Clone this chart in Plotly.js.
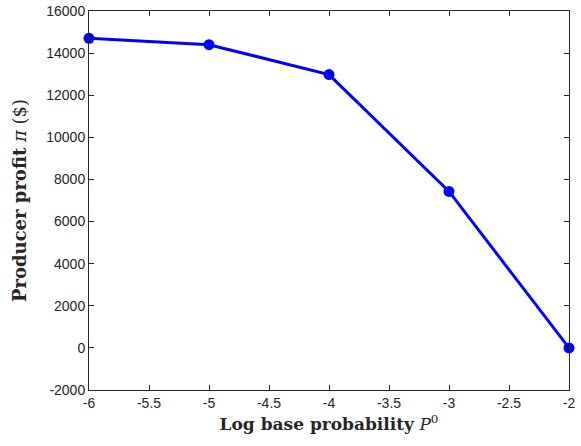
<!DOCTYPE html>
<html>
<head>
<meta charset="utf-8">
<script src="https://cdn.plot.ly/plotly-3.0.1.min.js"></script>
<style>html,body{margin:0;padding:0;background:#fff;}#chart{width:581px;height:446px;}</style>
</head>
<body>
<div id="chart"></div>
<script>
// Log base probability and the producer profit obtained at each level
const logProb = [-6, -5, -4, -3, -2];
const profit = [14700, 14400, 12980, 7430, 0];
const xTicks = [-6, -5.5, -5, -4.5, -4, -3.5, -3, -2.5, -2];
const yTicks = [-2000, 0, 2000, 4000, 6000, 8000, 10000, 12000, 14000, 16000];

const axisCommon = {
  showline: true,
  linecolor: '#262626',
  linewidth: 1,
  mirror: 'ticks',
  ticks: 'inside',
  ticklen: 5,
  tickcolor: '#262626',
  showgrid: false,
  zeroline: false,
  tickfont: {family: 'Liberation Sans, Arial, sans-serif', size: 14, color: '#262626'}
};

const titleFont = {family: 'DejaVu Serif, Liberation Serif, serif', size: 17, color: '#262626'};

const trace = {
  x: logProb,
  y: profit,
  mode: 'lines+markers',
  line: {color: '#0000ff', width: 3},
  marker: {color: '#0000ff', size: 11},
  cliponaxis: false
};

const layout = {
  width: 581,
  height: 446,
  margin: {l: 89, r: 12, t: 11, b: 56},
  paper_bgcolor: '#fff',
  plot_bgcolor: '#fff',
  showlegend: false,
  xaxis: Object.assign({}, axisCommon, {
    range: [-6, -2],
    tickvals: xTicks,
    ticktext: xTicks.map(String),
    title: {
      text: '<b>Log base probability</b> <i>P</i><sup>0</sup>',
      font: titleFont,
      standoff: 8
    }
  }),
  yaxis: Object.assign({}, axisCommon, {
    range: [-2000, 16000],
    tickvals: yTicks,
    ticktext: yTicks.map(String),
    title: {
      text: '<b>Producer profit</b> <i>π</i> ($)',
      font: Object.assign({}, titleFont, {size: 18}),
      standoff: 14
    }
  })
};

Plotly.newPlot('chart', [trace], layout, {displayModeBar: false, staticPlot: true});
</script>
</body>
</html>
